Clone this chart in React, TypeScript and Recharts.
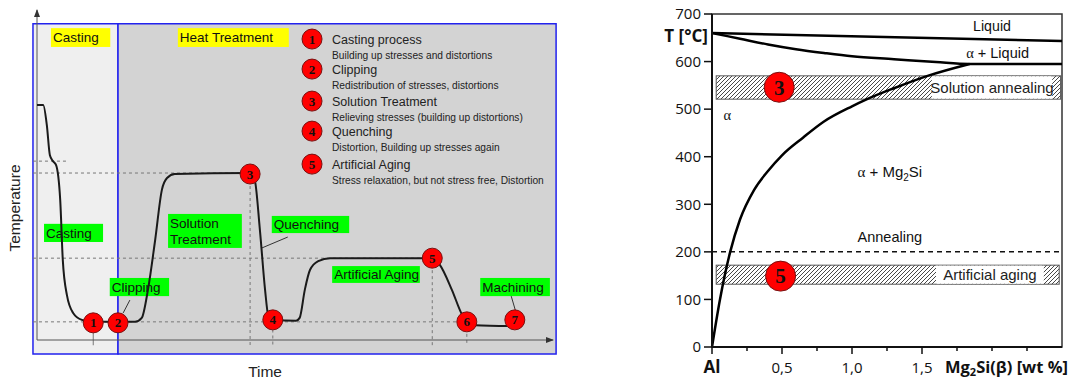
import React from "react";
import {
  ComposedChart,
  Line,
  XAxis,
  YAxis,
  ReferenceArea,
  ReferenceLine,
  ReferenceDot,
} from "recharts";

// ---- left chart: process route (relative units 0-100) ----
const routeTime = [0, 1.2, 1.9, 2.5, 3.1, 3.7, 4.5, 5.0, 5.8, 7.0, 8.7, 10.9, 19.0, 20.3, 21.5, 22.9, 24.2, 25.2, 26.7, 41.3, 42.2, 43.2, 44.2, 44.8, 45.7, 50.2, 50.9, 51.9, 52.9, 54.5, 56.8, 76.6, 78.1, 80.4, 82.4, 83.3, 84.9, 92.6];
const routeTemp = [71.2, 71.2, 65.2, 56, 54.2, 53, 42.4, 24.2, 13.6, 8.2, 6.1, 5.5, 5.5, 6.7, 15.2, 30.3, 45.5, 49.1, 50.3, 50.6, 48.5, 33.3, 15.2, 7.6, 6.1, 5.8, 6.7, 15.2, 21.2, 23.9, 24.8, 24.8, 22.7, 15.2, 7.6, 5.5, 4.5, 4.2];

const stepNumbers = ["1", "2", "3", "4", "5", "6", "7"];
const stepTime = [10.9, 15.7, 41.3, 45.7, 76.6, 83.3, 92.6];
const stepTemp = [5.2, 5.2, 50.3, 6.1, 24.8, 5.5, 6.1];

const guideLevels = [54.2, 50.6, 24.8, 5.5];
const guideEnds = [6, 41.3, 76.6, 83.3];
const dropTimes = [10.9, 41.3, 45.7, 76.6, 83.3];
const dropTops = [4, 50.3, 5, 24.8, 5.5];

const stageTitles = ["Casting process", "Clipping", "Solution Treatment", "Quenching", "Artificial Aging"];
const stageNotes = [
  "Building up stresses and distortions",
  "Redistribution of stresses, distortions",
  "Relieving stresses (building up distortions)",
  "Distortion, Building up stresses again",
  "Stress relaxation, but not stress free, Distortion",
];
const stageLegendTemp = [91.2, 82.1, 72.4, 63.3, 53.3];

// ---- right chart: Al - Mg2Si phase diagram ----
const liquidusWt = [0, 2.5];
const liquidusTemp = [660, 643];
const solidusWt = [0, 0.2, 0.4, 0.6, 0.8, 1.0, 1.3, 1.6, 1.84, 2.5];
const solidusTemp = [660, 648, 636, 626, 618, 611, 605, 599, 595, 595];
const solvusWt = [0, 0.057, 0.13, 0.2, 0.3, 0.4, 0.5, 0.65, 0.8, 1.0, 1.1, 1.3, 1.54, 1.84];
const solvusTemp = [0, 100, 200, 268, 330, 370, 403, 440, 474, 506, 520, 544, 570, 595];

const tempTicks = [0, 100, 200, 300, 400, 500, 600, 700];
const wtTicks = [0, 0.25, 0.5, 0.75, 1, 1.25, 1.5, 1.75, 2, 2.25];
const wtTickLabels: Record<string, string> = { "0": "Al", "0.5": "0,5", "1": "1,0", "1.5": "1,5" };

const SANS = "'Liberation Sans', Arial, sans-serif";
const SERIF = "'Liberation Serif', 'Times New Roman', serif";
const OPEN = "'Open Sans', sans-serif";

const route = routeTime.map((t, i) => ({ t, temp: routeTemp[i] }));
const liquidus = liquidusWt.map((wt, i) => ({ wt, temp: liquidusTemp[i] }));
const solidus = solidusWt.map((wt, i) => ({ wt, temp: solidusTemp[i] }));
const solvus = solvusWt.map((wt, i) => ({ wt, temp: solvusTemp[i] }));

const badge = (n: string, r: number, fs: number) => (p: any) => (
  <g>
    <circle cx={p.cx} cy={p.cy} r={r} fill="#ff0000" stroke="#7a1010" strokeWidth={1} />
    <text x={p.cx} y={p.cy} dy={fs * 0.35} textAnchor="middle" fontFamily={SERIF} fontWeight={700} fontSize={fs} fill="#111">
      {n}
    </text>
  </g>
);

const labelBox = (lines: string[], fill: string, fs: number) => (p: any) => (
  <g>
    <rect x={p.x} y={p.y} width={p.width} height={p.height} fill={fill} />
    {lines.map((l, i) => (
      <text
        key={i}
        x={p.x + 2}
        y={p.y + p.height / 2 + (i - (lines.length - 1) / 2) * fs * 1.15}
        dy={fs * 0.36}
        fontFamily={SANS}
        fontSize={fs}
        fill="#111"
      >
        {l}
      </text>
    ))}
  </g>
);

const hatchBox = (id: string) => (p: any) => (
  <g>
    <defs>
      <pattern id={id} patternUnits="userSpaceOnUse" width={4} height={4}>
        <path d="M-1,1 l2,-2 M0,4 l4,-4 M3,5 l2,-2" stroke="#333" strokeWidth={0.9} />
      </pattern>
    </defs>
    <rect x={p.x} y={p.y} width={p.width} height={p.height} fill={`url(#${id})`} stroke="#555" strokeWidth={1} />
  </g>
);

const whiteBox = (text: string, fs: number) => (p: any) => (
  <g>
    <rect x={p.x} y={p.y} width={p.width} height={p.height} fill="#fff" />
    <text x={p.x + p.width / 2} y={p.y + p.height / 2} dy={fs * 0.36} textAnchor="middle" fontFamily={SANS} fontSize={fs} fill="#222">
      {text}
    </text>
  </g>
);

// ticks drawn by hand: long at labelled values, short otherwise
const WtTick = (p: any) => {
  const key = String(p.payload.value);
  const txt = wtTickLabels[key];
  const isAl = txt === "Al";
  return (
    <g>
      <line x1={p.x} x2={p.x} y1={p.y} y2={p.y + (txt ? 7 : 4)} stroke="#111" strokeWidth={1.5} />
      {txt && (
        <text x={p.x} y={p.y + 26} textAnchor="middle" fontFamily={OPEN} fontSize={isAl ? 17 : 15} fontWeight={isAl ? 700 : 400} fill="#111">
          {txt}
        </text>
      )}
    </g>
  );
};

function ProcessChart() {
  return (
    <ComposedChart width={600} height={379} data={route} margin={{ top: 10, right: 47, bottom: 39, left: 37 }}>
      <XAxis hide dataKey="t" type="number" domain={[0, 100]} />
      <YAxis hide type="number" domain={[0, 100]} />
      <ReferenceArea x1={-0.78} x2={15.7} y1={-4.24} y2={95.8} ifOverflow="visible" fill="#efefef" fillOpacity={1} stroke="#2222ee" strokeWidth={1.5} />
      <ReferenceArea x1={15.7} x2={100.6} y1={-4.24} y2={95.8} ifOverflow="visible" fill="#d3d3d3" fillOpacity={1} stroke="#2222ee" strokeWidth={1.5} />
      {guideLevels.map((lv, i) => (
        <ReferenceLine key={`g${i}`} segment={[{ x: -0.78, y: lv }, { x: guideEnds[i], y: lv }]} ifOverflow="visible" stroke="#777" strokeDasharray="3 3" />
      ))}
      {dropTimes.map((t, i) => (
        <ReferenceLine key={`d${i}`} segment={[{ x: t, y: dropTops[i] }, { x: t, y: -1.6 }]} ifOverflow="visible" stroke="#777" strokeDasharray={i === 0 ? undefined : "3 3"} />
      ))}
      <ReferenceLine segment={[{ x: 0, y: 0 }, { x: 0, y: 100 }]} stroke="#555" />
      <ReferenceLine segment={[{ x: 0, y: 0 }, { x: 100, y: 0 }]} stroke="#555" />
      <ReferenceDot x={0} y={100} ifOverflow="visible" shape={(p: any) => <polygon points={`${p.cx - 3},${p.cy + 7} ${p.cx + 3},${p.cy + 7} ${p.cx},${p.cy - 1}`} fill="#333" />} />
      <ReferenceDot x={100} y={0} ifOverflow="visible" shape={(p: any) => <polygon points={`${p.cx - 7},${p.cy - 3} ${p.cx - 7},${p.cy + 3} ${p.cx + 1},${p.cy}`} fill="#333" />} />

      <ReferenceArea x1={2.7} x2={14.2} y1={88.8} y2={94.5} ifOverflow="visible" shape={labelBox(["Casting"], "#ffff00", 13.5)} />
      <ReferenceArea x1={27.3} x2={48.8} y1={88.8} y2={94.5} ifOverflow="visible" shape={labelBox(["Heat Treatment"], "#ffff00", 13.5)} />

      <ReferenceArea x1={1.36} x2={12.8} y1={29.7} y2={35.2} shape={labelBox(["Casting"], "#00ff00", 13.5)} />
      <ReferenceArea x1={14.1} x2={25.6} y1={13.3} y2={18.8} shape={labelBox(["Clipping"], "#00ff00", 13.5)} />
      <ReferenceArea x1={25.4} x2={39.7} y1={27.9} y2={38.2} shape={labelBox(["Solution", "Treatment"], "#00ff00", 13.5)} />
      <ReferenceArea x1={45.5} x2={60.5} y1={32.4} y2={37.6} shape={labelBox(["Quenching"], "#00ff00", 13.5)} />
      <ReferenceArea x1={57.2} x2={74.2} y1={17.3} y2={22.4} shape={labelBox(["Artificial Aging"], "#00ff00", 13.5)} />
      <ReferenceArea x1={85.9} x2={99.4} y1={13.3} y2={18.8} shape={labelBox(["Machining"], "#00ff00", 13.5)} />
      <ReferenceLine segment={[{ x: 16.7, y: 8.2 }, { x: 18.0, y: 12.1 }]} stroke="#333" />
      <ReferenceLine segment={[{ x: 43.6, y: 27.9 }, { x: 48.6, y: 31.2 }]} stroke="#333" />
      <ReferenceLine segment={[{ x: 91.9, y: 13.3 }, { x: 92.8, y: 8.5 }]} stroke="#333" />

      <Line dataKey="temp" type="monotone" stroke="#1a1a1a" strokeWidth={2} dot={false} isAnimationActive={false} />

      {stepNumbers.map((n, i) => (
        <ReferenceDot key={`s${n}`} x={stepTime[i]} y={stepTemp[i]} shape={badge(n, 10, 13)} />
      ))}
      {stageTitles.map((title, i) => (
        <ReferenceDot
          key={`l${i}`}
          x={53.3}
          y={stageLegendTemp[i]}
          shape={(p: any) => (
            <g>
              {badge(String(i + 1), 10, 13)(p)}
              <text x={p.cx + 20} y={p.cy + 4.5} fontFamily={SANS} fontSize={12.5} fill="#222">{title}</text>
              <text x={p.cx + 20} y={p.cy + 19.5} fontFamily={SANS} fontSize={10.2} fill="#222">{stageNotes[i]}</text>
            </g>
          )}
        />
      ))}
      <ReferenceDot x={-4.26} y={40} ifOverflow="visible" shape={(p: any) => (
        <text x={p.cx} y={p.cy} dy={5} textAnchor="middle" transform={`rotate(-90 ${p.cx} ${p.cy})`} fontFamily={SANS} fontSize={15.5} fill="#222">Temperature</text>
      )} />
      <ReferenceDot x={44.2} y={-9.7} ifOverflow="visible" shape={(p: any) => (
        <text x={p.cx} y={p.cy} dy={5} textAnchor="middle" fontFamily={SANS} fontSize={15.5} fill="#222">Time</text>
      )} />
    </ComposedChart>
  );
}

const plainText = (content: React.ReactNode, fs: number, anchor = "middle", bold = false, family = SANS) => (p: any) => (
  <text x={p.cx} y={p.cy} dy={fs * 0.36} textAnchor={anchor} fontFamily={family} fontSize={fs} fontWeight={bold ? 700 : 400} fill="#111">
    {content}
  </text>
);

function PhaseChart() {
  return (
    <ComposedChart width={435} height={379} margin={{ top: 14, right: 13, bottom: 0, left: 0 }}>
      <XAxis
        dataKey="wt"
        type="number"
        domain={[0, 2.5]}
        ticks={wtTicks}
        height={32}
        tick={<WtTick />}
        tickLine={false}
        tickSize={0}
        tickMargin={0}
        axisLine={{ stroke: "#111", strokeWidth: 2 }}
        allowDecimals
      />
      <YAxis
        dataKey="temp"
        type="number"
        domain={[0, 700]}
        ticks={tempTicks}
        width={72}
        tickSize={8}
        tickMargin={3}
        tick={{ fontFamily: OPEN, fontSize: 15, fill: "#111" }}
        axisLine={{ stroke: "#111", strokeWidth: 2 }}
        tickLine={{ stroke: "#111", strokeWidth: 1.5 }}
      />
      <ReferenceArea x1={0} x2={2.5} y1={0} y2={700} fill="none" stroke="#333" strokeWidth={1.5} />
      <ReferenceArea x1={0.03} x2={2.49} y1={521} y2={570} shape={hatchBox("hatchA")} />
      <ReferenceArea x1={1.57} x2={2.43} y1={522} y2={569} shape={whiteBox("Solution annealing", 15)} />
      <ReferenceArea x1={0.03} x2={2.48} y1={132} y2={172} shape={hatchBox("hatchB")} />
      <ReferenceArea x1={1.6} x2={2.37} y1={133} y2={171} shape={whiteBox("Artificial aging", 15)} />
      <ReferenceLine y={200} stroke="#111" strokeWidth={1.5} strokeDasharray="5 4" />

      <Line data={liquidus} dataKey="temp" type="linear" stroke="#000" strokeWidth={2.5} dot={false} isAnimationActive={false} />
      <Line data={solidus} dataKey="temp" type="monotone" stroke="#000" strokeWidth={2.5} dot={false} isAnimationActive={false} />
      <Line data={solvus} dataKey="temp" type="monotone" stroke="#000" strokeWidth={2.5} dot={false} isAnimationActive={false} />

      <ReferenceDot x={0.48} y={546} shape={badge("3", 15, 21)} />
      <ReferenceDot x={0.49} y={149} shape={badge("5", 15, 21)} />

      <ReferenceDot x={2.0} y={675} shape={plainText("Liquid", 14.2)} />
      <ReferenceDot x={2.04} y={618} shape={plainText(<><tspan fontFamily={SERIF}>α</tspan> + Liquid</>, 14.5)} />
      <ReferenceDot x={0.11} y={488} shape={plainText(<tspan fontFamily={SERIF}>α</tspan>, 14.5)} />
      <ReferenceDot x={1.27} y={368} shape={plainText(<><tspan fontFamily={SERIF}>α</tspan> + Mg<tspan fontSize={10} dy={4}>2</tspan><tspan dy={-4}>Si</tspan></>, 15)} />
      <ReferenceDot x={1.27} y={231} shape={plainText("Annealing", 14.5)} />

      <ReferenceDot x={-0.029} y={655} ifOverflow="visible" shape={plainText("T [°C]", 17, "end", true, OPEN)} />
      <ReferenceDot x={2.543} y={-42} ifOverflow="visible" shape={plainText(<>Mg<tspan fontSize={11} dy={3}>2</tspan><tspan dy={-3}>Si(β) [wt %]</tspan></>, 16.5, "end", true, OPEN)} />
    </ComposedChart>
  );
}

export default function App() {
  return (
    <div style={{ position: "absolute", left: 0, top: 0, width: 1075, height: 379, background: "#fff" }}>
      <div style={{ position: "absolute", left: 0, top: 0 }}>
        <ProcessChart />
      </div>
      <div style={{ position: "absolute", left: 640, top: 0 }}>
        <PhaseChart />
      </div>
    </div>
  );
}
